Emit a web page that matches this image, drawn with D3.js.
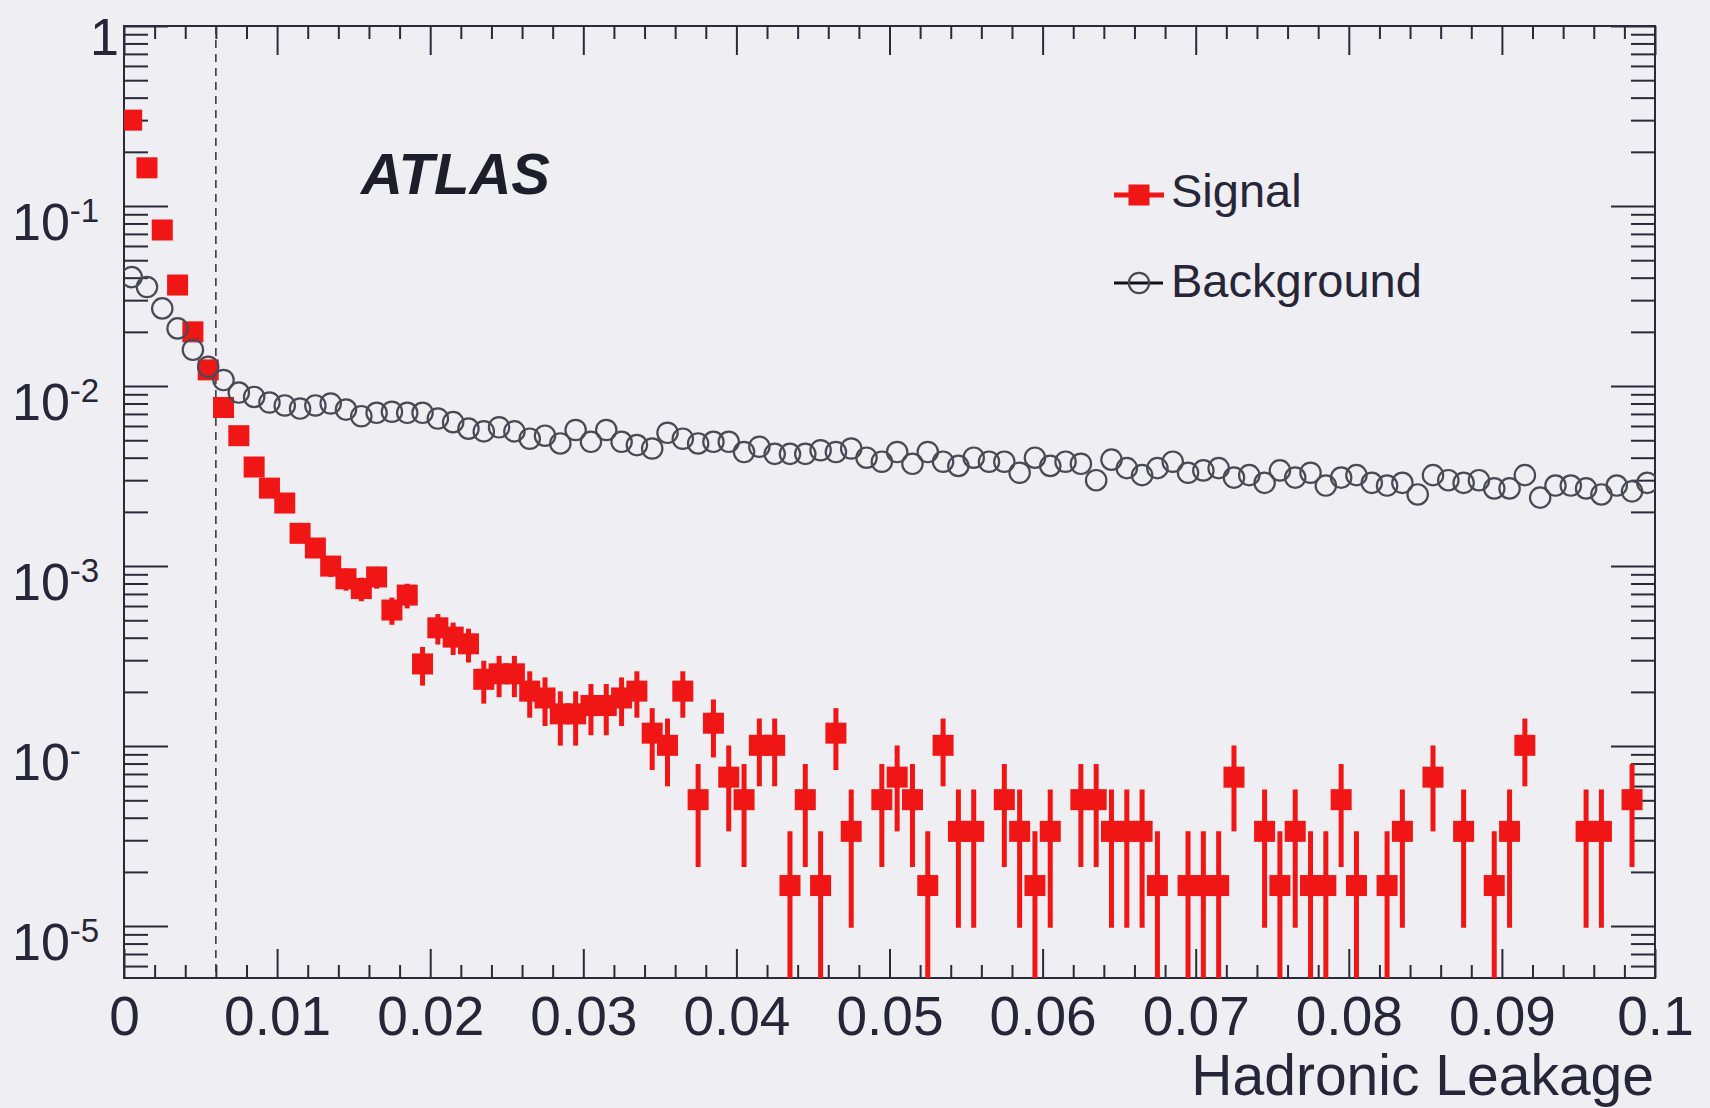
<!DOCTYPE html>
<html>
<head>
<meta charset="utf-8">
<script src="https://cdn.jsdelivr.net/npm/d3@7"></script>
<style>
  html, body { margin: 0; padding: 0; background: #efeef2; }
  svg { display: block; }
</style>
</head>
<body>
<svg id="chart" width="1710" height="1108"></svg>
<script>
// ---------------- DATA ----------------
const binWidth = 0.001;

const signal = [
  0.30, 0.163, 0.0736, 0.0364, 0.0200, 0.0123, 0.0076, 0.0053, 0.00355, 0.00271,
  0.00224, 0.00152, 0.00126, 0.00100, 0.00085, 0.00075, 0.00087, 0.00057, 0.00069, 2.86e-4,
  4.54e-4, 4.03e-4, 3.70e-4, 2.35e-4, 2.52e-4, 2.52e-4, 2.02e-4, 1.85e-4, 1.51e-4, 1.51e-4,
  1.68e-4, 1.68e-4, 1.85e-4, 2.02e-4, 1.18e-4, 1.01e-4, 2.02e-4, 5.04e-5, 1.34e-4, 6.72e-5,
  5.04e-5, 1.01e-4, 1.01e-4, 1.68e-5, 5.04e-5, 1.68e-5, 1.18e-4, 3.36e-5, 0, 5.04e-5,
  6.72e-5, 5.04e-5, 1.68e-5, 1.01e-4, 3.36e-5, 3.36e-5, 0, 5.04e-5, 3.36e-5, 1.68e-5,
  3.36e-5, 0, 5.04e-5, 5.04e-5, 3.36e-5, 3.36e-5, 3.36e-5, 1.68e-5, 0, 1.68e-5,
  1.68e-5, 1.68e-5, 6.72e-5, 0, 3.36e-5, 1.68e-5, 3.36e-5, 1.68e-5, 1.68e-5, 5.04e-5,
  1.68e-5, 0, 1.68e-5, 3.36e-5, 0, 6.72e-5, 0, 3.36e-5, 0, 1.68e-5,
  3.36e-5, 1.01e-4, 0, 0, 0, 3.36e-5, 3.36e-5, 0, 5.04e-5, 0
];

const signalErr = [
  2.24e-3, 1.65e-3, 1.11e-3, 7.8e-4, 5.8e-4, 4.5e-4, 3.6e-4, 2.98e-4, 2.44e-4, 2.13e-4,
  1.94e-4, 1.60e-4, 1.46e-4, 1.30e-4, 1.20e-4, 1.12e-4, 1.21e-4, 9.8e-5, 1.08e-4, 6.93e-5,
  8.73e-5, 8.23e-5, 7.88e-5, 6.29e-5, 6.51e-5, 6.51e-5, 5.82e-5, 5.57e-5, 5.04e-5, 5.04e-5,
  5.31e-5, 5.31e-5, 5.57e-5, 5.82e-5, 4.44e-5, 4.12e-5, 5.82e-5, 2.91e-5, 4.75e-5, 3.36e-5,
  2.91e-5, 4.12e-5, 4.12e-5, 1.68e-5, 2.91e-5, 1.68e-5, 4.44e-5, 2.38e-5, 0, 2.91e-5,
  3.36e-5, 2.91e-5, 1.68e-5, 4.12e-5, 2.38e-5, 2.38e-5, 0, 2.91e-5, 2.38e-5, 1.68e-5,
  2.38e-5, 0, 2.91e-5, 2.91e-5, 2.38e-5, 2.38e-5, 2.38e-5, 1.68e-5, 0, 1.68e-5,
  1.68e-5, 1.68e-5, 3.36e-5, 0, 2.38e-5, 1.68e-5, 2.38e-5, 1.68e-5, 1.68e-5, 2.91e-5,
  1.68e-5, 0, 1.68e-5, 2.38e-5, 0, 3.36e-5, 0, 2.38e-5, 0, 1.68e-5,
  2.38e-5, 4.12e-5, 0, 0, 0, 2.38e-5, 2.38e-5, 0, 2.91e-5, 0
];

const background = [
  0.0403, 0.0355, 0.0270, 0.0209, 0.0159, 0.0128, 0.0108, 0.0092, 0.0087, 0.0081,
  0.0078, 0.0075, 0.0078, 0.0080, 0.0074, 0.0068, 0.0071, 0.0072, 0.0071, 0.0071,
  0.0066, 0.0063, 0.0058, 0.0056, 0.0059, 0.0056, 0.0051, 0.0053, 0.0048, 0.0057,
  0.0049, 0.0057, 0.0049, 0.0047, 0.0045, 0.0055, 0.0051, 0.0048, 0.0049, 0.0049,
  0.0043, 0.0046, 0.0042, 0.0042, 0.0042, 0.0044, 0.0043, 0.0045, 0.0040, 0.0038,
  0.0043, 0.0037, 0.0043, 0.0038, 0.0036, 0.0040, 0.0038, 0.0038, 0.0033, 0.0040,
  0.0036, 0.0038, 0.0037, 0.0030, 0.0039, 0.0035, 0.0032, 0.0035, 0.0038, 0.0033,
  0.0034, 0.0035, 0.0031, 0.0032, 0.0029, 0.0034, 0.0031, 0.0033, 0.0028, 0.0031,
  0.0032, 0.0029, 0.0028, 0.0029, 0.0025, 0.0032, 0.0030, 0.0029, 0.0030, 0.0027,
  0.0027, 0.0032, 0.0024, 0.0028, 0.0028, 0.0027, 0.0025, 0.0028, 0.0026, 0.0029
];

const xMajorTicks = [0, 0.01, 0.02, 0.03, 0.04, 0.05, 0.06, 0.07, 0.08, 0.09, 0.1];
const xTickLabels = ["0", "0.01", "0.02", "0.03", "0.04", "0.05", "0.06", "0.07", "0.08", "0.09", "0.1"];
const xMinorStep = 0.002;

const yDecades = [1, 1e-1, 1e-2, 1e-3, 1e-4, 1e-5];
const yLabelBase = ["1", "10", "10", "10", "10", "10"];
const yLabelExp = ["", "-1", "-2", "-3", "-", "-5"];

const cutValue = 0.006;
const xTitle = "Hadronic Leakage";
const legendNames = ["Signal", "Background"];
const experimentLabel = "ATLAS";

// ---------------- LAYOUT ----------------
const pLeft = 124, pRight = 1655, pTop = 26, pBottom = 978;
const axisColor = "#2a2a3a";
const textColor = "#262638";
const red = "#f01616";
const font = "'Liberation Sans', Arial, Helvetica, sans-serif";

const svg = d3.select("#chart");
svg.append("rect").attr("width", 1710).attr("height", 1108).attr("fill", "#efeef2");

const x = d3.scaleLinear().domain([0, 0.1]).range([pLeft, pRight]);
const y = d3.scaleLog().domain([5.15e-6, 1]).range([pBottom, pTop]);

const xMinorTicks = d3.range(0, 0.1 + 1e-9, xMinorStep).filter(v => !xMajorTicks.some(m => Math.abs(m - v) < 1e-9));
const yMinorTicks = [];
yDecades.forEach(d => { for (let k = 2; k <= 9; k++) { const v = d * k / 10; if (v > 5.15e-6 && v < 1) yMinorTicks.push(v); } });

function styleAxis(g) {
  g.select(".domain").remove();
  g.selectAll(".tick line").attr("stroke", axisColor).attr("stroke-width", 2);
}

// Bottom axis (ticks inward) with labels
const gxb = svg.append("g").attr("transform", `translate(0,${pBottom})`)
  .call(d3.axisBottom(x).tickValues(xMajorTicks).tickSize(-29).tickSizeOuter(0)
    .tickFormat((d, i) => xTickLabels[i]));
styleAxis(gxb);
gxb.selectAll("text").attr("y", 57).attr("dy", null)
  .attr("font-family", font).attr("font-size", 55).attr("fill", textColor);
svg.append("g").attr("transform", `translate(0,${pBottom})`)
  .call(d3.axisBottom(x).tickValues(xMinorTicks).tickSize(-13).tickSizeOuter(0).tickFormat(""))
  .call(styleAxis);

// Top axis (mirror ticks)
svg.append("g").attr("transform", `translate(0,${pTop})`)
  .call(d3.axisTop(x).tickValues(xMajorTicks).tickSize(-29).tickSizeOuter(0).tickFormat(""))
  .call(styleAxis);
svg.append("g").attr("transform", `translate(0,${pTop})`)
  .call(d3.axisTop(x).tickValues(xMinorTicks).tickSize(-13).tickSizeOuter(0).tickFormat(""))
  .call(styleAxis);

// Left axis
svg.append("g").attr("transform", `translate(${pLeft},0)`)
  .call(d3.axisLeft(y).tickValues(yDecades).tickSize(-44).tickSizeOuter(0).tickFormat(""))
  .call(styleAxis);
svg.append("g").attr("transform", `translate(${pLeft},0)`)
  .call(d3.axisLeft(y).tickValues(yMinorTicks).tickSize(-24).tickSizeOuter(0).tickFormat(""))
  .call(styleAxis);
// Right axis (mirror)
svg.append("g").attr("transform", `translate(${pRight},0)`)
  .call(d3.axisRight(y).tickValues(yDecades).tickSize(-44).tickSizeOuter(0).tickFormat(""))
  .call(styleAxis);
svg.append("g").attr("transform", `translate(${pRight},0)`)
  .call(d3.axisRight(y).tickValues(yMinorTicks).tickSize(-24).tickSizeOuter(0).tickFormat(""))
  .call(styleAxis);

// Y labels
const ylab = svg.append("g").attr("font-family", font).attr("fill", textColor);
yDecades.forEach((d, i) => {
  if (yLabelExp[i] === "") {
    ylab.append("text").attr("x", 119).attr("y", y(d) + 29)
      .attr("text-anchor", "end").attr("font-size", 52).text(yLabelBase[i]);
  } else {
    const t = ylab.append("text").attr("x", 12).attr("y", y(d) + 34).attr("font-size", 52);
    t.append("tspan").text(yLabelBase[i]);
    t.append("tspan").attr("font-size", 33).attr("dy", -18).text(yLabelExp[i]);
  }
});

// Frame
svg.append("rect").attr("x", pLeft).attr("y", pTop)
  .attr("width", pRight - pLeft).attr("height", pBottom - pTop)
  .attr("fill", "none").attr("stroke", axisColor).attr("stroke-width", 2);

// Clip
svg.append("clipPath").attr("id", "plotclip").append("rect")
  .attr("x", pLeft).attr("y", pTop).attr("width", pRight - pLeft).attr("height", pBottom - pTop);
const plot = svg.append("g").attr("clip-path", "url(#plotclip)");

// Cut line
plot.append("line")
  .attr("x1", x(cutValue)).attr("x2", x(cutValue))
  .attr("y1", pTop).attr("y2", pBottom)
  .attr("stroke", "#3a3a44").attr("stroke-width", 1.6).attr("stroke-dasharray", "8,6");

// Signal
const sigData = signal.map((v, i) => ({ c: (i + 0.5) * binWidth, v, e: signalErr[i] })).filter(d => d.v > 0);
const yMin = y.domain()[0];
plot.append("g").selectAll("line").data(sigData).join("line")
  .attr("x1", d => x(d.c)).attr("x2", d => x(d.c))
  .attr("y1", d => y(d.v + d.e))
  .attr("y2", d => (d.v - d.e) > yMin ? y(d.v - d.e) : pBottom + 5)
  .attr("stroke", red).attr("stroke-width", 5);
const ms = 21;
plot.append("g").selectAll("rect").data(sigData).join("rect")
  .attr("x", d => x(d.c) - ms / 2).attr("y", d => y(d.v) - ms / 2)
  .attr("width", ms).attr("height", ms).attr("fill", red);

// Background
const cr = 10.2;
const bkgData = background.map((v, i) => ({ c: (i + 0.5) * binWidth, v }));
plot.append("g").selectAll("circle").data(bkgData).join("circle")
  .attr("cx", d => x(d.c)).attr("cy", d => y(d.v)).attr("r", cr)
  .attr("fill", "none").attr("stroke", "#4a4a56").attr("stroke-width", 2.2);

// ATLAS label
svg.append("text").attr("x", 361).attr("y", 194)
  .attr("font-family", font).attr("font-weight", "bold").attr("font-style", "italic")
  .attr("font-size", 58).attr("fill", "#1e1e2a").text(experimentLabel);

// Legend
const lg = svg.append("g").attr("font-family", font).attr("font-size", 47).attr("fill", textColor);
lg.append("line").attr("x1", 1114).attr("x2", 1164).attr("y1", 195).attr("y2", 195)
  .attr("stroke", red).attr("stroke-width", 5);
lg.append("rect").attr("x", 1139 - ms / 2).attr("y", 195 - ms / 2).attr("width", ms).attr("height", ms).attr("fill", red);
lg.append("text").attr("x", 1171).attr("y", 207).text(legendNames[0]);
lg.append("line").attr("x1", 1114).attr("x2", 1163).attr("y1", 283).attr("y2", 283)
  .attr("stroke", "#111118").attr("stroke-width", 3);
lg.append("circle").attr("cx", 1139).attr("cy", 283).attr("r", cr)
  .attr("fill", "none").attr("stroke", "#4a4a56").attr("stroke-width", 2.2);
lg.append("text").attr("x", 1171).attr("y", 297).text(legendNames[1]);

// X title
svg.append("text").attr("x", 1654).attr("y", 1095).attr("text-anchor", "end")
  .attr("font-family", font).attr("font-size", 57).attr("fill", textColor).text(xTitle);
</script>
</body>
</html>
